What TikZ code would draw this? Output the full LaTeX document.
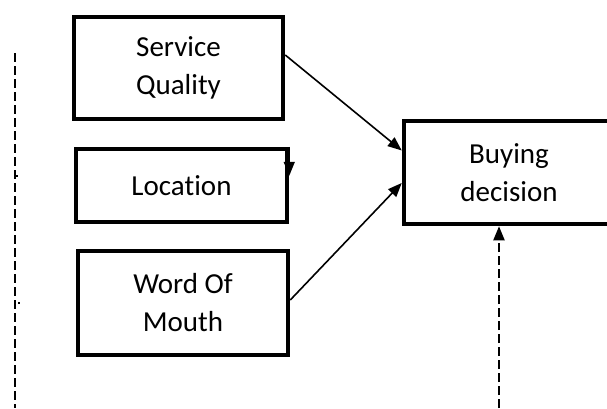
\documentclass[tikz,border=0pt]{standalone}
\usepackage{fontspec}
\setmainfont{Carlito}[Ligatures=NoCommon]
\usetikzlibrary{arrows.meta,calc}
\tikzset{
  factor/.style={draw, line width=4.5pt, rectangle, align=center, inner sep=0pt,
    font=\fontsize{29}{38}\selectfont},
  tip/.style={-{Triangle[length=14pt,width=11pt]}},
  link/.style={line width=1.6pt, tip},
  dashlink/.style={line width=2pt, dash pattern=on 9pt off 4pt},
}
\begin{document}
\begin{tikzpicture}[x=1pt,y=-1pt]
  \useasboundingbox (0,0) rectangle (607,408);
  % independent variables
  \node[factor, minimum width=209pt, minimum height=102pt] (sq) at (178.5,68) {Service\\Quality};
  \node[factor, minimum width=211pt, minimum height=73pt] (loc) at (181.5,185.5) {Location};
  \node[factor, minimum width=210pt, minimum height=104pt] (wom) at (183,303) {Word Of\\Mouth};
  % dependent variable (runs past the right edge)
  \node[factor, minimum width=210pt, minimum height=103pt] (bd) at (509,172.5) {Buying\\decision};
  % influences
  \draw[link] ($(sq.east)+(0,-13)$) -- ($(bd.west)+(0,-22)$);
  \draw[link] ($(wom.east)+(0,-3)$) -- ($(bd.west)+(0,10.5)$);
  \draw[link] (loc.north east) -- ($(loc.north east)+(0,29)$);
  % dashed frame lines
  \coordinate (ltop) at (15,53);
  \coordinate (lbot) at (15,408);
  \draw[dashlink] (ltop) -- (lbot);
  \coordinate (rbot) at (499,408);
  \draw[dashlink, tip] (rbot) -- (rbot |- bd.south);
  % stray marks
  \fill (16,175) rectangle (18,177);
  \fill (18,302) rectangle (20,304);
\end{tikzpicture}
\end{document}
